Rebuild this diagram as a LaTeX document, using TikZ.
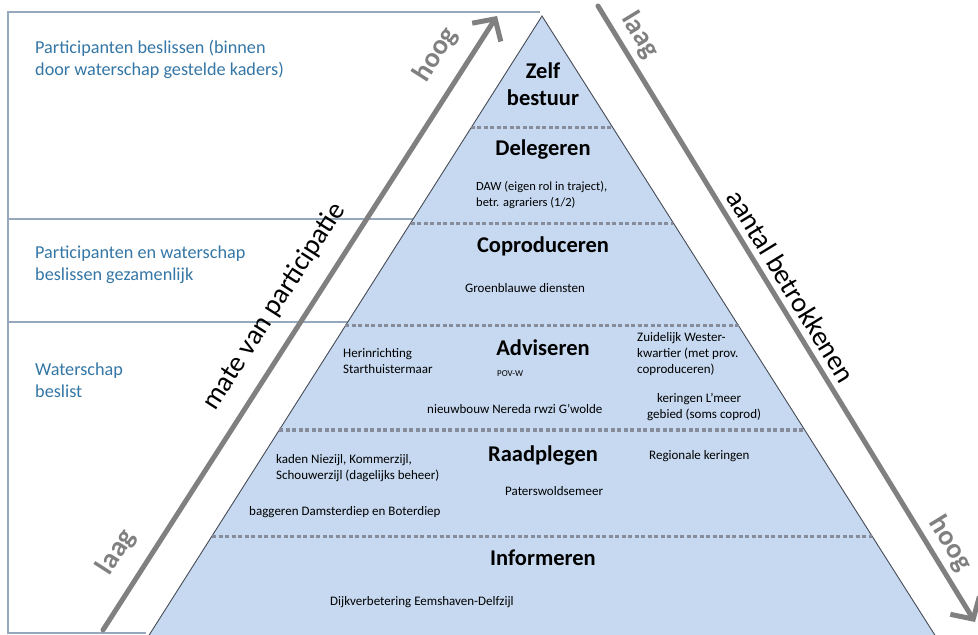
\documentclass[tikz,border=0pt]{standalone}
\usepackage{fontspec}
\setmainfont{Carlito}
\usetikzlibrary{arrows.meta,calc}

\definecolor{boxline}{RGB}{150,168,188}
\definecolor{boxtext}{RGB}{52,118,165}
\definecolor{pyrfill}{RGB}{198,217,240}
\definecolor{pyredge}{RGB}{70,75,85}
\definecolor{dotgray}{RGB}{135,140,155}
\definecolor{arrgray}{RGB}{128,128,128}

% multi-line nodes: base anchor sits on the last line
\tikzset{
  boxrule/.style={boxline, line width=1.2pt},
  decision/.style={boxtext, anchor=base west, align=left, inner sep=0pt,
    font=\fontsize{18.2}{22}\selectfont},
  level/.style={anchor=base, align=center, inner sep=0pt,
    font=\fontsize{22.5}{27}\selectfont\bfseries},
  case/.style={anchor=base west, align=left, inner sep=0pt,
    font=\fontsize{13}{16}\selectfont},
  layerline/.style={dotgray, line width=3pt, dash pattern=on 4pt off 2.5pt},
  axis/.style={arrgray, line width=5pt, line cap=round,
    -{Straight Barb[length=16pt,width=34pt]}},
  axislabel/.style={sloped, inner sep=0pt, text=black, font=\fontsize{28}{28}\selectfont},
  axisend/.style={axislabel, text=arrgray, font=\fontsize{28}{28}\selectfont\bfseries},
}

\begin{document}
\begin{tikzpicture}[x=1pt,y=-1pt]
\useasboundingbox (0,0) rectangle (978,635);

% left column
\draw [boxrule] (540,12)--(8,12)--(8,633)--(146,633);
\draw [boxrule] (8,219)--(413,219);
\draw [boxrule] (8,322)--(348,322);
\node [decision] (dec1) at (35,75) {Participanten beslissen (binnen\\door waterschap gestelde kaders)};
\node [decision] (dec2) at (35,280) {Participanten en waterschap\\beslissen gezamenlijk};
\node [decision] (dec3) at (35,397) {Waterschap\\beslist};

% pyramid
\coordinate (apex) at (542,16);
\coordinate (bl) at (146,640);
\coordinate (br) at (938,640);
\fill [pyrfill] (bl)--(apex)--(br)--cycle;
\draw [pyredge, line width=.9pt] (bl)--(apex)--(br);
\foreach \h in {128,223,326,430,536}
  \draw [layerline] ($(apex)!{(\h-16)/624}!(bl)$)--($(apex)!{(\h-16)/624}!(br)$);

\node [level] (zelf) at (543,105) {Zelf\\bestuur};
\node [level] (deleg) at (543,155) {Delegeren};
\node [level] (copro) at (543,252) {Coproduceren};
\node [level] (advis) at (543,355) {Adviseren};
\node [level] (raadp) at (543,461) {Raadplegen};
\node [level] (inform) at (543,565) {Informeren};

\node [case, font=\fontsize{12.5}{16}\selectfont] (daw) at (476,206) {DAW (eigen rol in traject),\\betr. agrariers (1/2)};
\node [case] (groen) at (465,292) {Groenblauwe diensten};
\node [case] (herin) at (343,373) {Herinrichting\\Starthuistermaar};
\node [case, font=\fontsize{9}{11}\selectfont] (povw) at (497,376) {POV-W};
\node [case] (zwk) at (637,373) {Zuidelijk Wester-\\kwartier (met prov.\\coproduceren)};
\node [case] (nereda) at (427,413) {nieuwbouw Nereda rwzi G'wolde};
\node [case] (lmeer) at (657,402) {keringen L'meer};
\node [case] (gebied) at (647,418) {gebied (soms coprod)};
\node [case] (kaden) at (276,479) {kaden Niezijl, Kommerzijl,\\Schouwerzijl (dagelijks beheer)};
\node [case] (regio) at (649,459) {Regionale keringen};
\node [case] (pater) at (505,495) {Paterswoldsemeer};
\node [case] (bagger) at (249,515) {baggeren Damsterdiep en Boterdiep};
\node [case] (dijk) at (330,605) {Dijkverbetering Eemshaven-Delfzijl};

% axes
\coordinate (part0) at (103,630);
\coordinate (part1) at (497,16);
\draw [axis] (part0)--(part1)
  node [axisend, pos=.1, above=16pt] (partlow) {laag}
  node [axislabel, pos=.5, above=16pt] (partname) {mate van participatie}
  node [axisend, pos=.91, above=16pt] (parthigh) {hoog};

\coordinate (betr0) at (598,6);
\coordinate (betr1) at (975,622);
\draw [axis] (betr0)--(betr1)
  node [axisend, pos=.065, above=6pt] (betrlow) {laag}
  node [axislabel, pos=.47, above=6pt] (betrname) {aantal betrokkenen}
  node [axisend, pos=.89, above=5pt] (betrhigh) {hoog};
\end{tikzpicture}
\end{document}
